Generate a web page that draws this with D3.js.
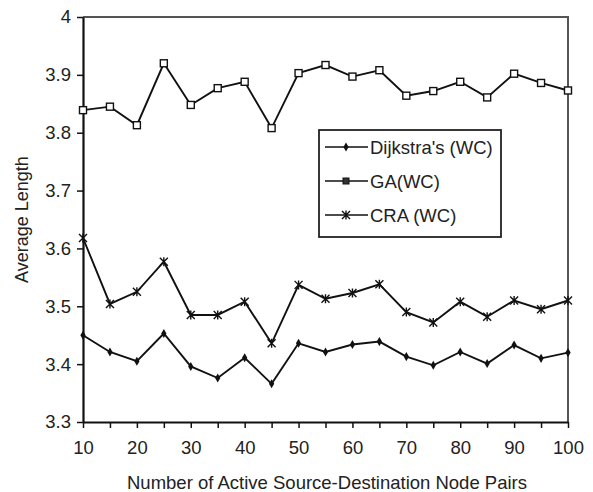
<!DOCTYPE html>
<html>
<head>
<meta charset="utf-8">
<script src="https://cdn.jsdelivr.net/npm/d3@7"></script>
<style>
  body { margin: 0; background: #fff; }
  text { font-family: "Liberation Sans", Arial, sans-serif; fill: #222; }
</style>
</head>
<body>
<div id="chart"></div>
<script>
// data
var pairs = [10, 15, 20, 25, 30, 35, 40, 45, 50, 55, 60, 65, 70, 75, 80, 85, 90, 95, 100];
var dijkstra = [3.450, 3.421, 3.405, 3.453, 3.396, 3.376, 3.411, 3.366, 3.436, 3.421, 3.434, 3.439, 3.413, 3.398, 3.421, 3.401, 3.433, 3.410, 3.420];
var ga = [3.839, 3.845, 3.813, 3.920, 3.848, 3.877, 3.888, 3.808, 3.903, 3.917, 3.897, 3.908, 3.864, 3.872, 3.888, 3.861, 3.902, 3.886, 3.873];
var cra = [3.618, 3.504, 3.525, 3.577, 3.485, 3.485, 3.508, 3.436, 3.537, 3.513, 3.523, 3.538, 3.490, 3.472, 3.508, 3.482, 3.510, 3.495, 3.510];
var seriesNames = ["Dijkstra's (WC)", "GA(WC)", "CRA (WC)"];
var xTicks = [10, 20, 30, 40, 50, 60, 70, 80, 90, 100];
var yTicks = [3.3, 3.4, 3.5, 3.6, 3.7, 3.8, 3.9, 4];

var W = 593, H = 492;
var m = {left: 83, right: 25, top: 17, bottom: 70};
var fontSize = '18.5px';

var svg = d3.select('#chart').append('svg')
    .attr('width', W).attr('height', H);

var x = d3.scaleLinear().domain([10, 100]).range([m.left, W - m.right]);
var y = d3.scaleLinear().domain([3.3, 4]).range([H - m.bottom, m.top]);

// frame (top and right)
svg.append('path')
    .attr('d', 'M' + x(10) + ',' + y(4) + 'H' + x(100) + 'V' + y(3.3))
    .attr('fill', 'none').attr('stroke', '#555').attr('stroke-width', 2);

// x axis
var xAxis = svg.append('g')
    .attr('transform', 'translate(0,' + y(3.3) + ')')
    .call(d3.axisBottom(x).tickValues(pairs).tickSize(6).tickSizeOuter(0)
        .tickFormat(function(d) { return xTicks.indexOf(d) >= 0 ? d : ''; }));
xAxis.select('.domain').attr('stroke', '#111').attr('stroke-width', 2.2);
xAxis.selectAll('.tick line').attr('stroke', '#111').attr('stroke-width', 1.5);
xAxis.selectAll('.tick text').attr('y', 32).attr('dy', 0)
    .style('font-size', fontSize).style('font-family', '"Liberation Sans", Arial, sans-serif').attr('fill', '#222');

// y axis
var yAxis = svg.append('g')
    .attr('transform', 'translate(' + x(10) + ',0)')
    .call(d3.axisLeft(y).tickValues(yTicks).tickSize(6).tickSizeOuter(0)
        .tickFormat(function(d) { return d === 4 ? '4' : d3.format('.1f')(d); }));
yAxis.select('.domain').attr('stroke', '#111').attr('stroke-width', 2.2);
yAxis.selectAll('.tick line').attr('stroke', '#111').attr('stroke-width', 1.5);
yAxis.selectAll('.tick text').attr('x', -12)
    .style('font-size', fontSize).style('font-family', '"Liberation Sans", Arial, sans-serif').attr('fill', '#222');

// axis titles
svg.append('text')
    .attr('x', 327).attr('y', 489)
    .attr('text-anchor', 'middle').style('font-size', fontSize)
    .text('Number of Active Source-Destination Node Pairs');
svg.append('text')
    .attr('transform', 'translate(28,' + ((y(3.3) + y(4)) / 2) + ') rotate(-90)')
    .attr('text-anchor', 'middle').style('font-size', '18px')
    .text('Average Length');

// markers
function drawMarker(g, type, cx, cy) {
  if (type === 'diamond') {
    g.append('path').attr('d', d3.symbol(d3.symbolDiamond, 24)())
      .attr('transform', 'translate(' + cx + ',' + cy + ')')
      .attr('fill', '#111');
  } else if (type === 'square') {
    g.append('rect').attr('x', cx - 3.5).attr('y', cy - 3.5)
      .attr('width', 7).attr('height', 7)
      .attr('fill', '#fff').attr('stroke', '#111').attr('stroke-width', 1.4);
  } else if (type === 'squareFilled') {
    g.append('rect').attr('x', cx - 3).attr('y', cy - 3)
      .attr('width', 6).attr('height', 6)
      .attr('fill', '#333').attr('stroke', '#111').attr('stroke-width', 1);
  } else {
    g.append('path')
      .attr('d', 'M' + (cx - 4) + ',' + (cy - 4) + 'L' + (cx + 4) + ',' + (cy + 4) +
                 'M' + (cx - 4) + ',' + (cy + 4) + 'L' + (cx + 4) + ',' + (cy - 4) +
                 'M' + cx + ',' + (cy - 4.5) + 'V' + (cy + 4.5))
      .attr('stroke', '#111').attr('stroke-width', 1.4).attr('fill', 'none');
  }
}

var line = d3.line().x(function(d, i) { return x(pairs[i]); }).y(function(d) { return y(d); });
var series = [
  {values: dijkstra, marker: 'diamond'},
  {values: ga, marker: 'square'},
  {values: cra, marker: 'cross'}
];
series.forEach(function(s) {
  var g = svg.append('g');
  g.append('path').datum(s.values).attr('d', line)
    .attr('fill', 'none').attr('stroke', '#111').attr('stroke-width', 1.9);
  s.values.forEach(function(v, i) { drawMarker(g, s.marker, x(pairs[i]), y(v)); });
});

// legend
var lg = svg.append('g');
lg.append('rect').attr('x', 319).attr('y', 130).attr('width', 182).attr('height', 107)
  .attr('fill', '#fff').attr('stroke', '#222').attr('stroke-width', 1.8);
var legendMarkers = ['diamond', 'squareFilled', 'cross'];
seriesNames.forEach(function(name, i) {
  var ly = 147 + i * 34;
  lg.append('line').attr('x1', 325).attr('x2', 368).attr('y1', ly).attr('y2', ly)
    .attr('stroke', '#111').attr('stroke-width', 1.6);
  drawMarker(lg, legendMarkers[i], 346, ly);
  lg.append('text').attr('x', 370).attr('y', ly).attr('dy', '0.36em')
    .style('font-size', fontSize).text(name);
});
</script>
</body>
</html>
